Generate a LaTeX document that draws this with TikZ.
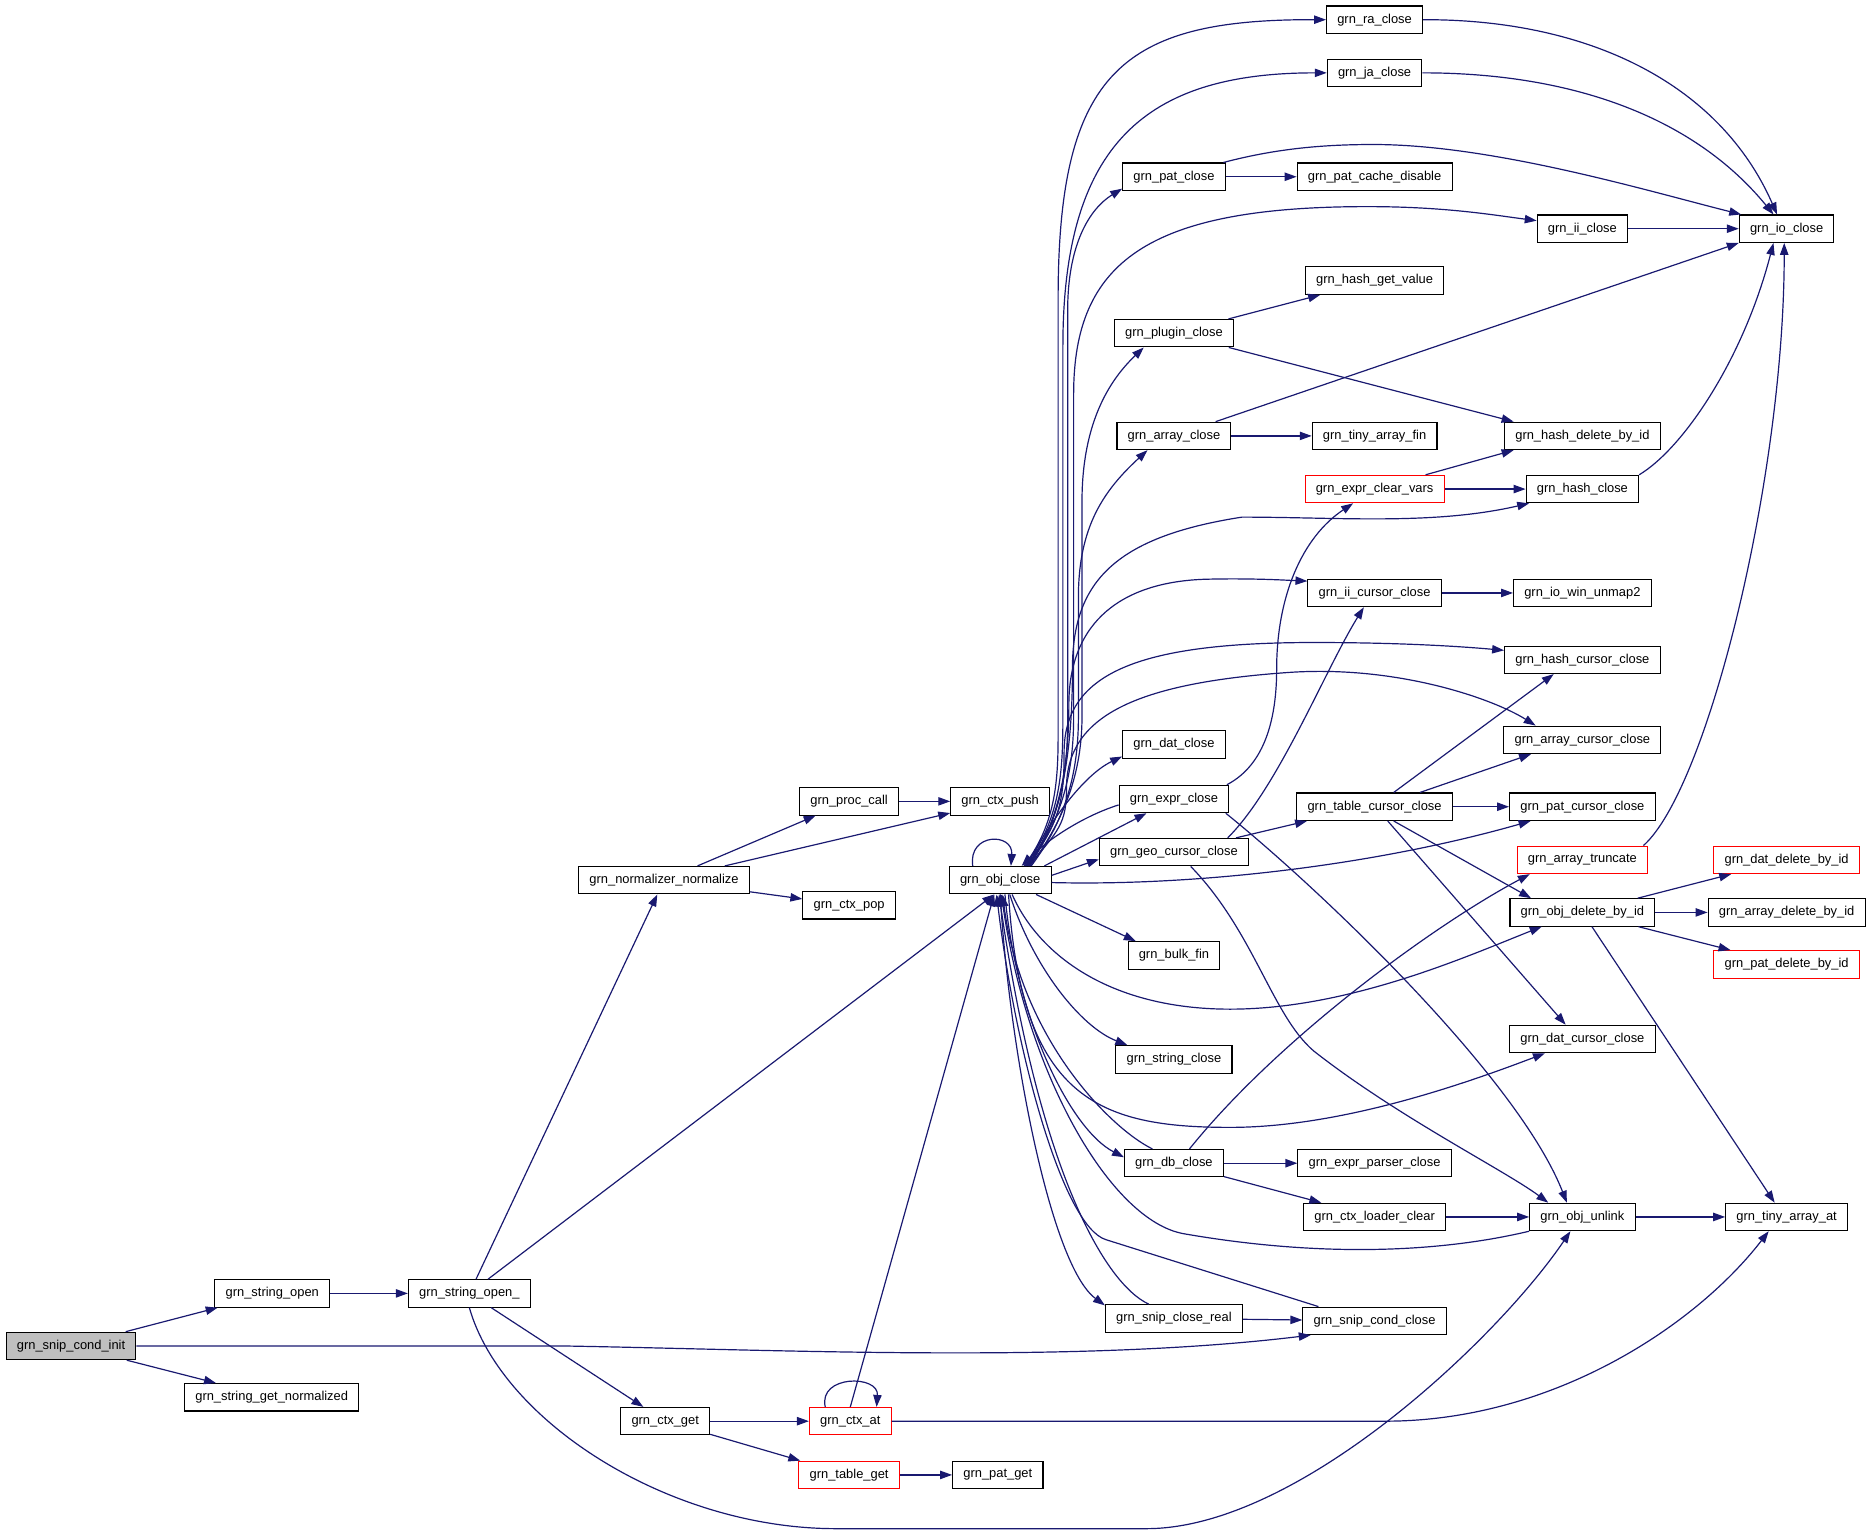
\documentclass[tikz,border=0pt]{standalone}
\usepackage{fontspec}
\setmainfont{Liberation Sans}
\usetikzlibrary{arrows.meta,positioning}
\definecolor{edgeblue}{HTML}{191970}

\begin{document}
\begin{tikzpicture}[x=1pt,y=-1pt,
					box/.style={draw=black, line width=0.9pt, rectangle, minimum height=23pt, inner xsep=9pt, inner ysep=0pt, font=\fontsize{10.8}{12}\selectfont},
					rootbox/.style={box, fill=gray!50},
					redbox/.style={box, draw=red},
					arrow/.style={-{Triangle[length=10pt,width=7pt]}, line width=1pt, draw=edgeblue}]
					\useasboundingbox (0,0) rectangle (1565,1283);
					\node[rootbox] (init) at (59.5,1127) {grn\_snip\_cond\_init};
					\node[box] (stropen) at (228,1083) {grn\_string\_open};
					\node[box] (strnorm) at (227.5,1170) {grn\_string\_get\_normalized};
					\node[box] (stropenu) at (393,1083) {grn\_string\_open\_};
					\node[box] (normalize) at (556,737) {grn\_normalizer\_normalize};
					\node[box] (ctxget) at (557,1190) {grn\_ctx\_get};
					\node[box] (proccall) at (711,671) {grn\_proc\_call};
					\node[box] (ctxpop) at (711,758) {grn\_ctx\_pop};
					\node[redbox] (ctxat) at (712,1190) {grn\_ctx\_at};
					\node[redbox] (tableget) at (711,1235) {grn\_table\_get};
					\node[box] (ctxpush) at (837.5,671) {grn\_ctx\_push};
					\node[box] (objclose) at (837.5,737) {grn\_obj\_close};
					\node[box] (patget) at (835.5,1235) {grn\_pat\_get};
					
					\node[box] (patclose) at (983,148) {grn\_pat\_close};
					\node[box] (pluginclose) at (983,279) {grn\_plugin\_close};
					\node[box] (arrayclose) at (983,365) {grn\_array\_close};
					\node[box] (datclose) at (983,623.5) {grn\_dat\_close};
					\node[box] (exprclose) at (983,669) {grn\_expr\_close};
					\node[box] (geocursor) at (983,713.5) {grn\_geo\_cursor\_close};
					\node[box] (bulkfin) at (983,800) {grn\_bulk\_fin};
					\node[box] (stringclose) at (983,887) {grn\_string\_close};
					\node[box] (dbclose) at (983,974) {grn\_db\_close};
					\node[box] (snipreal) at (983,1104) {grn\_snip\_close\_real};
					
					\node[box] (raclose) at (1151,16.5) {grn\_ra\_close};
					\node[box] (jaclose) at (1151,61) {grn\_ja\_close};
					\node[box] (patcache) at (1151,148) {grn\_pat\_cache\_disable};
					\node[box] (hashgetvalue) at (1151,235) {grn\_hash\_get\_value};
					\node[box] (tinyarrayfin) at (1151,365) {grn\_tiny\_array\_fin};
					\node[redbox] (exprclear) at (1151,409.5) {grn\_expr\_clear\_vars};
					\node[box] (iicursor) at (1151,496.5) {grn\_ii\_cursor\_close};
					\node[box] (tablecursor) at (1151,675.5) {grn\_table\_cursor\_close};
					\node[box] (exprparser) at (1151,974) {grn\_expr\_parser\_close};
					\node[box] (loaderclear) at (1151,1019) {grn\_ctx\_loader\_clear};
					\node[box] (snipcond) at (1151,1106) {grn\_snip\_cond\_close};
					
					\node[box] (iiclose) at (1325,191.5) {grn\_ii\_close};
					\node[box] (hashdelete) at (1325,365) {grn\_hash\_delete\_by\_id};
					\node[box] (hashclose) at (1325,409.5) {grn\_hash\_close};
					\node[box] (iowin) at (1325,496.5) {grn\_io\_win\_unmap2};
					\node[box] (hashcursor) at (1325,552.5) {grn\_hash\_cursor\_close};
					\node[box] (arraycursor) at (1325,619.5) {grn\_array\_cursor\_close};
					\node[box] (patcursor) at (1325,675.5) {grn\_pat\_cursor\_close};
					\node[redbox] (arraytrunc) at (1325,720) {grn\_array\_truncate};
					\node[box] (objdelete) at (1325,764) {grn\_obj\_delete\_by\_id};
					\node[box] (datcursor) at (1325,870) {grn\_dat\_cursor\_close};
					\node[box] (objunlink) at (1325,1019) {grn\_obj\_unlink};
					
					\node[box] (ioclose) at (1496,191.5) {grn\_io\_close};
					\node[redbox] (datdelete) at (1496,720) {grn\_dat\_delete\_by\_id};
					\node[box] (arraydelete) at (1496,764) {grn\_array\_delete\_by\_id};
					\node[redbox] (patdelete) at (1496,807.5) {grn\_pat\_delete\_by\_id};
					\node[box] (tinyarrayat) at (1496,1019) {grn\_tiny\_array\_at};
					
					\draw[arrow] (init) -- (stropen);
					\draw[arrow] (init) -- (strnorm);
					\draw[arrow] (init.east) -- (470,1127) .. controls (650,1130) and (900,1142) .. ([xshift=7pt]snipcond.south west);
					\draw[arrow] (stropen) -- (stropenu);
					\draw[arrow] (stropenu) -- (normalize);
					\draw[arrow] (stropenu) -- ([xshift=-5pt]objclose.south);
					\draw[arrow] (stropenu) -- (ctxget);
					\draw[arrow] (stropenu.south) .. controls (420,1190) and (560,1280) .. (700,1280) -- (960,1280) .. controls (1087,1280) and (1254,1121) .. ([xshift=-10pt]objunlink.south);
					\draw[arrow] (normalize) -- (proccall);
					\draw[arrow] (normalize) -- (ctxpush);
					\draw[arrow] (normalize) -- (ctxpop);
					\draw[arrow] (proccall) -- (ctxpush);
					\draw[arrow] (ctxget) -- (ctxat);
					\draw[arrow] (ctxget) -- (tableget);
					\draw[arrow] (tableget) -- (patget);
					\draw[arrow] (ctxat.north) -- ([xshift=-5pt]objclose.south);
					\draw[arrow] ([xshift=-21pt]ctxat.north) .. controls +(-6,-27) and +(2,-27) .. ([xshift=22pt]ctxat.north);
					\draw[arrow] (ctxat.east) -- (1160,1190) .. controls (1300,1190) and (1420,1110) .. ([xshift=-15pt]tinyarrayat.south);
					
					\draw[arrow] ([xshift=-23pt]objclose.north) .. controls +(-4,-28) and +(2,-28) .. ([xshift=9pt]objclose.north);
					\draw[arrow] ([xshift=20pt]objclose.north) .. controls +(30,-40) and +(0,45) .. (886,600) -- (886,250) .. controls (886,60) and (940,16) .. (raclose.west);
					\draw[arrow] ([xshift=21pt]objclose.north) .. controls +(30,-40) and +(0,45) .. (890,600) -- (890,290) .. controls (890,120) and (960,61) .. (jaclose.west);
					\draw[arrow] ([xshift=22pt]objclose.north) .. controls +(30,-40) and +(0,45) .. (894,600) -- (894,260) .. controls (894,205) and (912,175) .. ([yshift=2pt]patclose.south west);
					\draw[arrow] ([xshift=23pt]objclose.north) .. controls +(30,-40) and +(0,45) .. (899,600) -- (899,330) .. controls (899,220) and (960,173) .. (1145,173) .. controls (1210,173) and (1250,180) .. (iiclose.170);
					\draw[arrow] ([xshift=25pt]objclose.north) .. controls +(30,-40) and +(0,45) .. (906,600) -- (906,420) .. controls (906,360) and (925,322) .. ([xshift=25pt]pluginclose.south west);
					\draw[arrow] ([xshift=26pt]objclose.north) .. controls +(30,-40) and +(0,45) .. (903,600) -- (903,500) .. controls (903,440) and (925,410) .. ([xshift=26pt]arrayclose.south west);
					\draw[arrow] ([xshift=24pt]objclose.north) .. controls +(30,-40) and +(0,60) .. (898,560) .. controls (898,490) and (930,450) .. (1040,433) .. controls (1120,433) and (1200,440) .. ([xshift=3pt]hashclose.south west);
					\draw[arrow] ([xshift=23pt]objclose.north) .. controls +(30,-40) and +(0,40) .. (895,590) .. controls (895,520) and (940,487) .. (1010,485) .. controls (1050,484) and (1080,486) .. ([yshift=-2pt]iicursor.north west);
					\draw[arrow] ([xshift=22pt]objclose.north) .. controls +(28,-35) and +(0,40) .. (891,630) .. controls (891,565) and (950,538) .. (1100,538) .. controls (1170,538) and (1220,541) .. ([yshift=-4pt]hashcursor.north west);
					\draw[arrow] ([xshift=24pt]objclose.north) .. controls +(25,-30) and +(0,30) .. (893,660) .. controls (893,600) and (950,572) .. (1080,563) .. controls (1170,557) and (1250,585) .. ([xshift=27pt]arraycursor.north west);
					\draw[arrow] ([xshift=22pt]objclose.north) .. controls (875,695) and (905,650) .. ([yshift=2pt]datclose.south west);
					\draw[arrow] ([xshift=37pt]objclose.north) -- ([xshift=-23pt]exprclose.south);
					\draw[arrow] ([yshift=-5pt]exprclose.west) .. controls (905,684) and (875,705) .. ([xshift=18pt]objclose.north);
					\draw[arrow] ([yshift=4pt]objclose.east) -- ([yshift=-6pt]geocursor.west);
					\draw[arrow] ([yshift=-2pt]objclose.east) .. controls (1000,742) and (1150,725) .. ([xshift=18pt]patcursor.south west);
					\draw[arrow] ([xshift=30pt]objclose.south) -- ([xshift=-32pt]bulkfin.north);
					\draw[arrow] ([xshift=10pt]objclose.south) .. controls (870,800) and (930,845) .. (1030,845) .. controls (1130,845) and (1230,800) .. ([xshift=27pt]objdelete.south west);
					\draw[arrow] ([xshift=8pt]objclose.south) .. controls (865,810) and (905,860) .. ([xshift=10pt]stringclose.north west);
					\draw[arrow] ([xshift=7pt]objclose.south) .. controls (855,920) and (920,944) .. (1030,944) .. controls (1120,944) and (1220,910) .. ([xshift=30pt]datcursor.south west);
					\draw[arrow] ([xshift=4pt]objclose.south) .. controls (850,850) and (895,945) .. ([yshift=5pt]dbclose.west);
					\draw[arrow] ([xshift=-18pt]dbclose.north) .. controls (930,945) and (855,870) .. ([xshift=2pt]objclose.south);
					\draw[arrow] (objclose.south) .. controls (845,880) and (880,1060) .. ([yshift=-1pt]snipreal.north west);
					\draw[arrow] ([xshift=-21pt]snipreal.north) .. controls (925,1075) and (870,980) .. ([xshift=-1pt]objclose.south);
					\draw[arrow] ([xshift=-47pt]snipcond.north) -- (926,1038) .. controls (890,1027) and (850,880) .. ([xshift=-3pt]objclose.south);
					\draw[arrow] (objunlink.south west) .. controls (1200,1050) and (1100,1052) .. (991,1033) .. controls (930,1022) and (860,900) .. ([xshift=1pt]objclose.south);
					
					\draw[arrow] ([xshift=13pt]dbclose.north) .. controls (1070,870) and (1200,775) .. ([xshift=11pt]arraytrunc.south west);
					\draw[arrow] (dbclose) -- (exprparser);
					\draw[arrow] (dbclose) -- (loaderclear);
					\draw[arrow] (loaderclear) -- (objunlink);
					\draw[arrow] (objunlink) -- (tinyarrayat);
					\draw[arrow] (snipreal) -- (snipcond);
					\draw[arrow] ([xshift=52pt]geocursor.north) -- ([xshift=9pt]tablecursor.south west);
					\draw[arrow] ([xshift=45pt]geocursor.north) .. controls (1070,660) and (1110,560) .. ([xshift=-9pt]iicursor.south);
					\draw[arrow] ([xshift=14pt]geocursor.south) .. controls (1050,780) and (1065,850) .. (1100,880) .. controls (1170,935) and (1260,980) .. ([xshift=16pt]objunlink.north west);
					\draw[arrow] ([xshift=-2pt]exprclose.north east) .. controls (1060,640) and (1069,600) .. (1069,560) .. controls (1069,500) and (1090,450) .. ([xshift=-18pt]exprclear.south);
					\draw[arrow] ([xshift=-3pt]exprclose.south east) .. controls (1100,740) and (1270,900) .. ([xshift=-13pt]objunlink.north);
					\draw[arrow] (tablecursor) -- (patcursor);
					\draw[arrow] ([xshift=16pt]tablecursor.north) -- ([xshift=-24pt]hashcursor.south);
					\draw[arrow] ([xshift=38pt]tablecursor.north) -- ([xshift=-43pt]arraycursor.south);
					\draw[arrow] ([xshift=16pt]tablecursor.south) -- ([xshift=-43pt]objdelete.north);
					\draw[arrow] ([xshift=11pt]tablecursor.south) -- ([xshift=-14pt]datcursor.north);
					
					\draw[arrow] (patclose) -- (patcache);
					\draw[arrow] ([xshift=-2pt]patclose.north east) .. controls (1070,124) and (1110,121) .. (1150,121) .. controls (1250,121) and (1380,160) .. ([xshift=2pt]ioclose.north west);
					\draw[arrow] (raclose.east) .. controls (1330,16) and (1440,70) .. ([xshift=-8pt]ioclose.north);
					\draw[arrow] (jaclose.east) .. controls (1320,61) and (1420,100) .. ([xshift=-11pt]ioclose.north);
					\draw[arrow] (iiclose) -- (ioclose);
					\draw[arrow] (pluginclose) -- (hashgetvalue);
					\draw[arrow] (pluginclose) -- ([xshift=8pt]hashdelete.north west);
					\draw[arrow] (arrayclose) -- (tinyarrayfin);
					\draw[arrow] (arrayclose) -- (ioclose.south west);
					\draw[arrow] (exprclear) -- ([xshift=8pt]hashdelete.south west);
					\draw[arrow] (exprclear) -- (hashclose);
					\draw[arrow] (hashclose.north east) .. controls (1410,375) and (1460,300) .. ([xshift=-11pt]ioclose.south);
					\draw[arrow] ([xshift=-4pt]arraytrunc.north east) .. controls (1430,660) and (1494,400) .. ([xshift=-2pt]ioclose.south);
					\draw[arrow] (iicursor) -- (iowin);
					\draw[arrow] (objdelete) -- (datdelete);
					\draw[arrow] (objdelete) -- (arraydelete);
					\draw[arrow] (objdelete) -- (patdelete);
					\draw[arrow] ([xshift=8pt]objdelete.south) -- ([xshift=-10pt]tinyarrayat.north);
				\end{tikzpicture}
\end{document}
